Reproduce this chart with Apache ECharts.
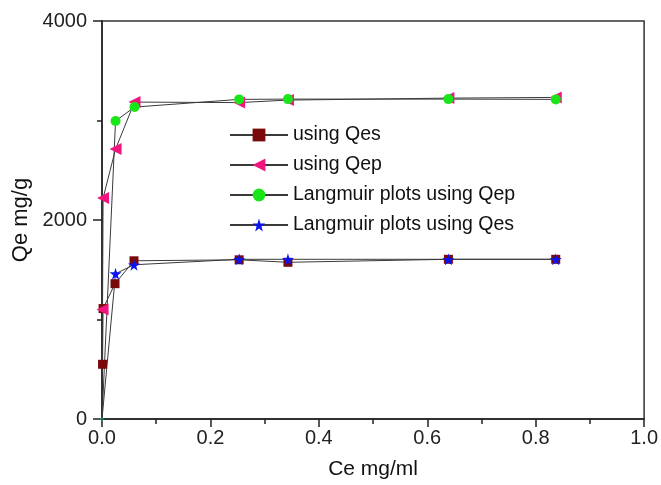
<!DOCTYPE html>
<html>
<head>
<meta charset="utf-8">
<script src="https://cdn.jsdelivr.net/npm/echarts@6/dist/echarts.min.js"></script>
<style>
  html, body { margin: 0; padding: 0; background: #fff; }
  #chart { width: 661px; height: 485px; }
</style>
</head>
<body>
<div id="chart"></div>
<script>
// Ce (mg/ml) and Qe (mg/g) per series
const qesX = [0.001, 0.002, 0.024, 0.059, 0.253, 0.343, 0.639, 0.837];
const qesY = [550, 1110, 1360, 1590, 1600, 1575, 1605, 1605];

const qepX = [0.001, 0.002, 0.025, 0.06, 0.253, 0.343, 0.639, 0.837];
const qepY = [1100, 2220, 2713, 3185, 3180, 3205, 3225, 3232];

const langQepX = [0, 0.025, 0.06, 0.253, 0.343, 0.639, 0.837];
const langQepY = [0, 2995, 3135, 3212, 3215, 3215, 3212];

const langQesX = [0, 0.025, 0.059, 0.253, 0.343, 0.639, 0.837];
const langQesY = [0, 1460, 1550, 1605, 1605, 1605, 1605];

const seriesNames = ['using Qes', 'using Qep', 'Langmuir plots using Qep', 'Langmuir plots using Qes'];

const font = 'Liberation Sans, Arial, sans-serif';
const starPath = 'path://M50,0 L61,35 L98,35 L68,57 L79,91 L50,70 L21,91 L32,57 L2,35 L39,35 Z';
const leftTriPath = 'path://M0,50 L90,0 L90,100 Z';

const pairs = (xs, ys) => xs.map((x, i) => [x, ys[i]]);
// the points sitting in the origin corner are almost hidden in the figure
const sizeAt = (base) => (v) => (v[0] === 0 && v[1] === 0 ? 3 : base);

const makeSeries = (name, data, symbol, size, color) => ({
  name,
  type: 'line',
  data,
  symbol,
  symbolSize: sizeAt(size),
  showAllSymbol: true,
  lineStyle: { color: '#3a3a3a', width: 1 },
  itemStyle: { color },
  emphasis: { disabled: true },
  animation: false,
});

const chart = echarts.init(document.getElementById('chart'));
chart.setOption({
  animation: false,
  textStyle: { fontFamily: font },
  grid: {
    left: 102,
    right: 14,
    top: 21,
    bottom: 63,
    show: true,
    borderColor: '#333',
    borderWidth: 1.5,
  },
  legend: {
    orient: 'vertical',
    left: 224,
    top: 120,
    itemWidth: 58,
    itemHeight: 16,
    itemGap: 10,
    data: seriesNames,
    textStyle: { fontFamily: font, fontSize: 19.5, color: '#111' },
  },
  xAxis: {
    type: 'value',
    min: 0,
    max: 1,
    interval: 0.2,
    name: 'Ce mg/ml',
    nameLocation: 'middle',
    nameGap: 40,
    nameTextStyle: { fontFamily: font, fontSize: 21, color: '#111' },
    axisLine: { lineStyle: { color: '#222', width: 1.5 } },
    axisTick: { length: 8, lineStyle: { color: '#222', width: 1.5 } },
    minorTick: { show: true, splitNumber: 2, length: 5, lineStyle: { color: '#222', width: 1.5 } },
    axisLabel: {
      fontFamily: font,
      fontSize: 20,
      color: '#222',
      margin: 9,
      formatter: (v) => v.toFixed(1),
    },
    splitLine: { show: false },
  },
  yAxis: {
    type: 'value',
    min: 0,
    max: 4000,
    interval: 2000,
    name: 'Qe mg/g',
    nameLocation: 'middle',
    nameGap: 60,
    nameTextStyle: { fontFamily: font, fontSize: 22, color: '#111' },
    axisLine: { show: true, lineStyle: { color: '#222', width: 1.5 } },
    axisTick: { show: true, length: 9, lineStyle: { color: '#222', width: 1.5 } },
    minorTick: { show: true, splitNumber: 2, length: 5, lineStyle: { color: '#222', width: 1.5 } },
    axisLabel: {
      fontFamily: font,
      fontSize: 20,
      color: '#222',
      margin: 15,
      formatter: (v) => String(v),
    },
    splitLine: { show: false },
  },
  series: [
    makeSeries(seriesNames[0], pairs(qesX, qesY), 'rect', 9, '#7a0a0a'),
    makeSeries(seriesNames[1], pairs(qepX, qepY), leftTriPath, 12, '#f0157f'),
    makeSeries(seriesNames[2], pairs(langQepX, langQepY), 'circle', 10, '#19e619'),
    makeSeries(seriesNames[3], pairs(langQesX, langQesY), starPath, 12, '#0a14f0'),
  ],
});
</script>
</body>
</html>
